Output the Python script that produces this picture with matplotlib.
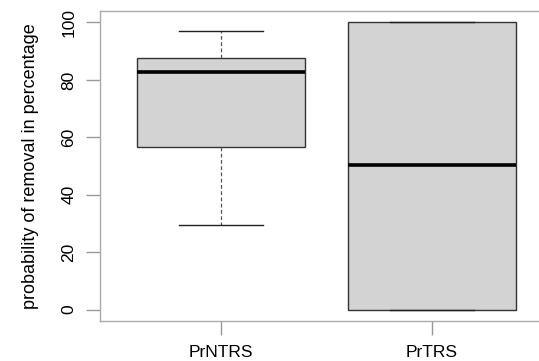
import matplotlib
matplotlib.use("Agg")
import matplotlib.pyplot as plt

plt.rcParams["font.family"] = ["Liberation Sans", "DejaVu Sans"]

groups = ["PrNTRS", "PrTRS"]
whislo = [29.4, 0.0]
q1 = [56.6, 0.0]
med = [82.7, 50.2]
q3 = [87.5, 100.0]
whishi = [97.1, 100.0]

stats = []
for i in range(len(groups)):
    stats.append({"label": groups[i], "whislo": whislo[i], "q1": q1[i],
                  "med": med[i], "q3": q3[i], "whishi": whishi[i], "fliers": []})

fig = plt.figure(figsize=(5.39, 3.61), dpi=100)
W, H = 539, 361
ax = fig.add_axes([100 / W, (H - 321) / H, (553 - 100) / W, 310 / H])

ax.bxp(stats, positions=[1, 2], widths=0.8, patch_artist=True,
       boxprops=dict(facecolor="#d3d3d3", edgecolor="#333333", linewidth=1),
       medianprops=dict(color="black", linewidth=2.6, solid_capstyle="butt"),
       whiskerprops=dict(color="#555555", linestyle=(0, (3, 2)), linewidth=0.9),
       capprops=dict(color="#222222", linewidth=1),
       capwidths=0.4)

ax.set_xlim(0.427, 2.573)
ax.set_ylim(-4, 104)
ax.set_yticks([0, 20, 40, 60, 80, 100])
ax.set_yticklabels(["0", "20", "40", "60", "80", "100"], rotation=90, va="center", fontsize=12.5)
ax.set_xticks([1, 2])
ax.set_xticklabels(groups, fontsize=12.5)
ax.tick_params(axis="both", length=10, width=1, color="#999999", pad=7)
ax.spines["right"].set_visible(False)
for s in ax.spines.values():
    s.set_color("#aaaaaa")
    s.set_linewidth(1)
ax.set_ylabel("probability of removal in percentage", fontsize=13, labelpad=16)

fig.savefig("out.png", dpi=100)
